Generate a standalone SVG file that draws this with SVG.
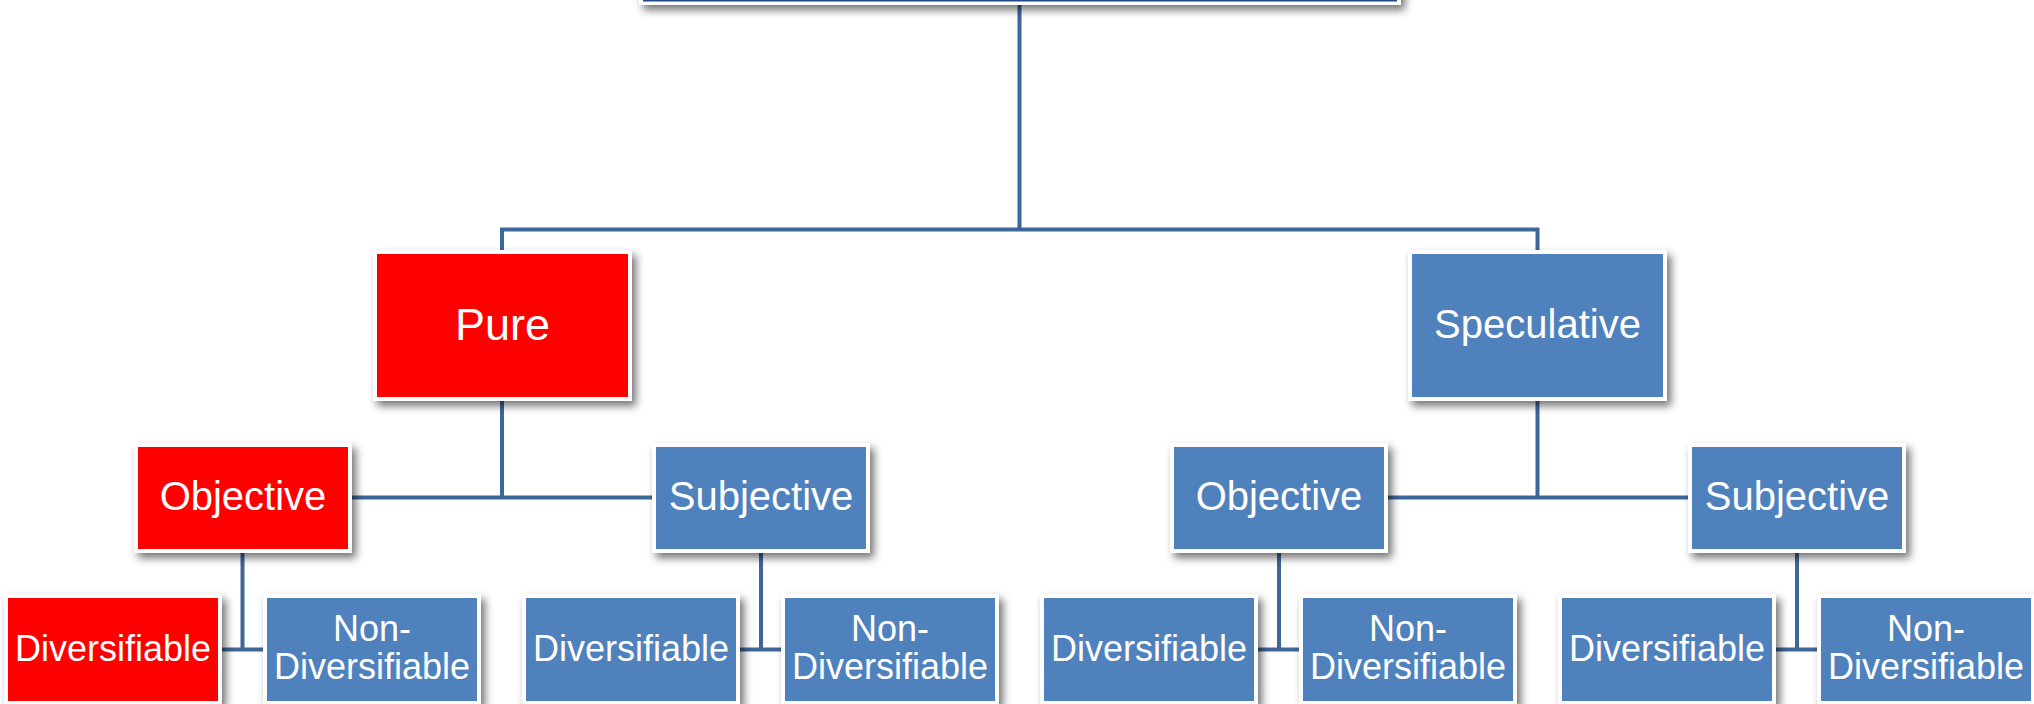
<svg xmlns="http://www.w3.org/2000/svg" width="2034" height="704" viewBox="0 0 2034 704">
  <defs>
    <filter id="shadow" x="-20%" y="-20%" width="150%" height="150%">
      <feDropShadow dx="4" dy="5" stdDeviation="4" flood-color="#000" flood-opacity="0.55"/>
    </filter>
    <style>
      .frame { fill: #ffffff; filter: url(#shadow); }
      .red { fill: #ff0000; }
      .blue { fill: #4f81bd; }
      .navy { fill: #24478a; }
      .lbl { fill: #ffffff; font-family: "Liberation Sans", Arial, sans-serif; text-anchor: middle; }
      .l1 { font-size: 45px; }
      .l1s { font-size: 40px; }
      .l2 { font-size: 40px; }
      .l3 { font-size: 36px; }
      .conn { fill: none; stroke: #3e6698; stroke-width: 4; }
    </style>
  </defs>
  <rect width="2034" height="704" fill="#ffffff"/>

  <!-- connectors -->
  <g id="connectors">
    <path class="conn" d="M1019.5 0 V229.5"/>
    <path class="conn" d="M502 252 V229.5 H1537.5 V252"/>
    <path class="conn" d="M502 397 V497.5 M348 497.5 H656"/>
    <path class="conn" d="M1537.5 397 V497.5 M1384 497.5 H1692"/>
    <path class="conn" d="M242.5 549 V649.5 M218 649.5 H267"/>
    <path class="conn" d="M761 549 V649.5 M736.5 649.5 H785.5"/>
    <path class="conn" d="M1279 549 V649.5 M1254.5 649.5 H1303.5"/>
    <path class="conn" d="M1797 549 V649.5 M1772.5 649.5 H1821.5"/>
  </g>

  <!-- root (top edge of frame) -->
  <g id="root">
    <rect class="frame" x="639" y="-100" width="762" height="105"/>
    <rect class="navy" x="643" y="-100" width="754" height="101.5"/>
  </g>

  <!-- level 1 -->
  <g id="pure">
    <rect class="frame" x="373" y="250" width="259" height="151"/>
    <rect class="red" x="377" y="254" width="251" height="143"/>
    <text class="lbl l1" x="502.5" y="340">Pure</text>
  </g>
  <g id="speculative">
    <rect class="frame" x="1408" y="250" width="259" height="151"/>
    <rect class="blue" x="1412" y="254" width="251" height="143"/>
    <text class="lbl l1s" x="1537.5" y="338">Speculative</text>
  </g>

  <!-- level 2 -->
  <g id="pure-objective">
    <rect class="frame" x="134" y="443" width="218" height="110"/>
    <rect class="red" x="138" y="447" width="210" height="102"/>
    <text class="lbl l2" x="243" y="510">Objective</text>
  </g>
  <g id="pure-subjective">
    <rect class="frame" x="652" y="443" width="218" height="110"/>
    <rect class="blue" x="656" y="447" width="210" height="102"/>
    <text class="lbl l2" x="761" y="510">Subjective</text>
  </g>
  <g id="spec-objective">
    <rect class="frame" x="1170" y="443" width="218" height="110"/>
    <rect class="blue" x="1174" y="447" width="210" height="102"/>
    <text class="lbl l2" x="1279" y="510">Objective</text>
  </g>
  <g id="spec-subjective">
    <rect class="frame" x="1688" y="443" width="218" height="110"/>
    <rect class="blue" x="1692" y="447" width="210" height="102"/>
    <text class="lbl l2" x="1797" y="510">Subjective</text>
  </g>

  <!-- level 3 -->
  <g id="po-div">
    <rect class="frame" x="4" y="594" width="218" height="111"/>
    <rect class="red" x="8" y="598" width="210" height="103"/>
    <text class="lbl l3" x="113" y="661">Diversifiable</text>
  </g>
  <g id="po-nondiv">
    <rect class="frame" x="263" y="594" width="218" height="111"/>
    <rect class="blue" x="267" y="598" width="210" height="103"/>
    <text class="lbl l3" x="372" y="641">Non-</text>
    <text class="lbl l3" x="372" y="678.5">Diversifiable</text>
  </g>
  <g id="ps-div">
    <rect class="frame" x="522" y="594" width="218" height="111"/>
    <rect class="blue" x="526" y="598" width="210" height="103"/>
    <text class="lbl l3" x="631" y="661">Diversifiable</text>
  </g>
  <g id="ps-nondiv">
    <rect class="frame" x="781" y="594" width="218" height="111"/>
    <rect class="blue" x="785" y="598" width="210" height="103"/>
    <text class="lbl l3" x="890" y="641">Non-</text>
    <text class="lbl l3" x="890" y="678.5">Diversifiable</text>
  </g>
  <g id="so-div">
    <rect class="frame" x="1040" y="594" width="218" height="111"/>
    <rect class="blue" x="1044" y="598" width="210" height="103"/>
    <text class="lbl l3" x="1149" y="661">Diversifiable</text>
  </g>
  <g id="so-nondiv">
    <rect class="frame" x="1299" y="594" width="218" height="111"/>
    <rect class="blue" x="1303" y="598" width="210" height="103"/>
    <text class="lbl l3" x="1408" y="641">Non-</text>
    <text class="lbl l3" x="1408" y="678.5">Diversifiable</text>
  </g>
  <g id="ss-div">
    <rect class="frame" x="1558" y="594" width="218" height="111"/>
    <rect class="blue" x="1562" y="598" width="210" height="103"/>
    <text class="lbl l3" x="1667" y="661">Diversifiable</text>
  </g>
  <g id="ss-nondiv">
    <rect class="frame" x="1817" y="594" width="218" height="111"/>
    <rect class="blue" x="1821" y="598" width="210" height="103"/>
    <text class="lbl l3" x="1926" y="641">Non-</text>
    <text class="lbl l3" x="1926" y="678.5">Diversifiable</text>
  </g>
</svg>
